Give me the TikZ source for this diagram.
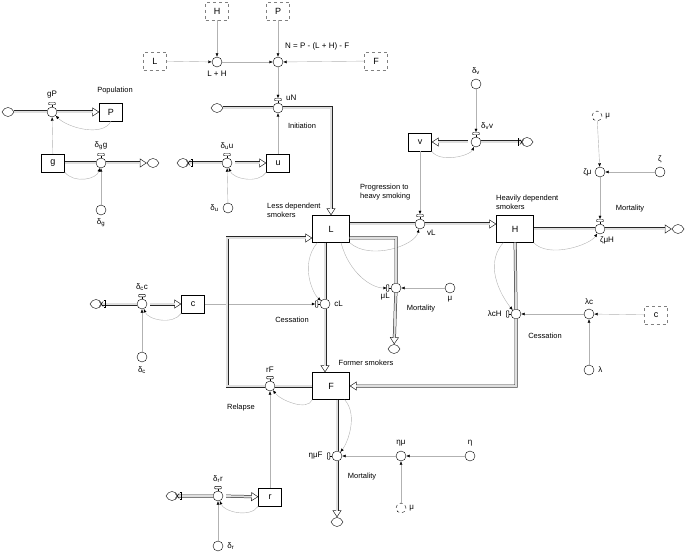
\documentclass[tikz,border=0pt]{standalone}
\usepackage{fontspec}
\setmainfont{Liberation Sans}
\usetikzlibrary{arrows.meta, positioning, shapes.symbols}

\begin{document}
\begin{tikzpicture}[
  x=1pt, y=-1pt,
  font=\fontsize{8}{9}\selectfont,
  stock/.style={draw, minimum width=23pt, minimum height=18pt, inner sep=0pt, font=\fontsize{9}{10}\selectfont},
  bigstock/.style={stock, minimum width=37pt, minimum height=27pt},
  ghost/.style={stock, draw=gray, dashed},
  aux/.style={circle, draw, minimum size=10pt, inner sep=0pt},
  ghostaux/.style={aux, dashed},
  sky/.style={cloud, cloud puffs=4, cloud puff arc=140, aspect=1.4, draw, minimum width=12pt, minimum height=9pt, inner sep=0pt},
  lbl/.style={inner sep=1pt},
  note/.style={inner sep=0pt, align=left, font=\fontsize{7.5}{9}\selectfont},
  link/.style={draw=gray!60, -{Latex[color=black, length=3.5pt, width=3pt]}},
  flow/.style={draw=gray!30!black, line width=0.5pt, -{Triangle[fill=white, length=7pt, width=9pt]},
    postaction={draw=gray!30!black, double=gray!25, double distance=2pt, -, shorten >=6.5pt}},
  valvecap/.style={draw, fill=white, rounded corners=0.8pt}
  ]
\useasboundingbox (0,0) rectangle (685,553);

% Ghost variables and N
\node[ghost] (Hg) at (217,11) {H};
\node[ghost] (Pg) at (278,11) {P};
\node[ghost] (Lg) at (155,61) {L};
\node[ghost] (Fg) at (376,61) {F};
\node[aux, label={[lbl, label distance=3pt]below:L + H}] (LH) at (217,62) {};
\node[aux] (N) at (278,62) {};
\node[lbl, anchor=south west] (Nl) at (284,51) {N = P - (L + H) - F};

% Population
\node[sky] (srcP) at (8,112) {};
\node[aux, label={[lbl, label distance=7pt]above:gP}] (gP) at (52,112) {};
\node[stock] (P) at (111,112) {P};
\node[note] (popl) at (115,91) {Population};
\node[stock] (g) at (53,163) {g};
\node[aux, label={[lbl, label distance=7pt]above:δ\textsubscript{g}g}] (dgg) at (101,163) {};
\node[sky] (snkG) at (153,163) {};
\node[aux, label={[lbl, label distance=2pt]below:δ\textsubscript{g}}] (dg) at (101,210) {};

% Initiation
\node[sky] (srcN) at (217,108) {};
\node[aux] (uN) at (278,108) {};
\node[lbl, anchor=south west] (uNl) at (285,102) {uN};
\node[note] (initl) at (302,126) {Initiation};
\node[stock] (u) at (278,163) {u};
\node[aux, label={[lbl, label distance=7pt]above:δ\textsubscript{u}u}] (duu) at (227,163) {};
\node[sky] (srcU) at (183,163) {};
\node[aux, label={[lbl, label distance=3pt]left:δ\textsubscript{u}}] (du) at (228,208) {};

% Progression to heavy smoking
\node[aux, label={[lbl, label distance=3pt]above:δ\textsubscript{v}}] (dv) at (476,84) {};
\node[aux] (dvv) at (476,142) {};
\node[lbl, anchor=south west] (dvvl) at (480,131) {δ\textsubscript{v}v};
\node[stock] (v) at (420,142) {v};
\node[sky] (srcV) at (527,142) {};
\node[aux] (vL) at (420,224) {};
\node[lbl, anchor=north west] (vLl) at (426,229) {vL};
\node[note, anchor=west] (progl) at (360,192) {Progression to\\heavy smoking};

% Stocks
\node[bigstock] (L) at (331,229) {L};
\node[note, anchor=west] (Ll) at (267,210) {Less dependent\\smokers};
\node[bigstock] (H) at (515,229) {H};
\node[note, anchor=west] (Hl) at (496,202) {Heavily dependent\\smokers};
\node[bigstock] (F) at (331,386) {F};
\node[note] (Fl) at (366,363) {Former smokers};

% Mortality of heavy smokers
\node[ghostaux, label={[lbl, label distance=2pt]right:μ}] (mu1) at (597,116) {};
\node[aux, label={[lbl, label distance=3pt]above:ζ}] (zeta) at (660,172) {};
\node[aux, label={[lbl, label distance=2pt]left:ζμ}] (zm) at (600,172) {};
\node[aux] (zmH) at (600,229) {};
\node[lbl, anchor=north] (zmHl) at (607,236) {ζμH};
\node[note] (mort1) at (630,209) {Mortality};
\node[sky] (snkH) at (678,229) {};

% Cessation of less dependent smokers
\node[aux, label={[lbl, label distance=3pt]right:cL}] (cL) at (325,304) {};
\node[stock] (c) at (193,304) {c};
\node[aux, label={[lbl, label distance=7pt]above:δ\textsubscript{c}c}] (dcc) at (142,304) {};
\node[sky] (srcC) at (96,304) {};
\node[aux, label={[lbl, label distance=3pt]below:δ\textsubscript{c}}] (dc) at (142,357) {};
\node[note] (cesl1) at (292,320) {Cessation};

% Mortality of less dependent smokers
\node[aux] (mL) at (396,288) {};
\node[lbl, anchor=north east] (mLl) at (391,292) {μL};
\node[aux, label={[lbl, label distance=2pt]below:μ}] (mu2) at (450,288) {};
\node[sky] (snkML) at (394,349) {};
\node[note] (mort2) at (421,309) {Mortality};

% Cessation of heavy smokers
\node[aux, label={[lbl, label distance=8pt]left:λcH}] (lcH) at (516,314) {};
\node[aux, label={[lbl, label distance=3pt]above:λc}] (lc) at (589,314) {};
\node[ghost] (cg) at (656,315) {c};
\node[aux, label={[lbl, label distance=3pt]right:λ}] (lam) at (589,370) {};
\node[note] (cesl2) at (545,336) {Cessation};

% Relapse
\node[aux, label={[lbl, label distance=7pt]above:rF}] (rF) at (270,386) {};
\node[note] (relpl) at (241,408) {Relapse};
\node[stock] (r) at (270,497) {r};
\node[aux, label={[lbl, label distance=7pt]above:δ\textsubscript{r}r}] (drr) at (218,496) {};
\node[sky] (srcR) at (172,496) {};
\node[aux, label={[lbl, label distance=3pt]right:δ\textsubscript{r}}] (dr) at (218,546) {};

% Mortality of former smokers
\node[aux, label={[lbl, label distance=8pt]left:ημF}] (emF) at (337,456) {};
\node[aux, label={[lbl, label distance=3pt]above:ημ}] (em) at (401,456) {};
\node[aux, label={[lbl, label distance=3pt]above:η}] (eta) at (470,456) {};
\node[ghostaux, label={[lbl, label distance=2pt]right:μ}] (mu3) at (401,508) {};
\node[sky] (snkF) at (337,522) {};
\node[note] (mort3) at (362,477) {Mortality};

% Links
\draw[link] (Hg) -- (LH);
\draw[link] (Pg) -- (N);
\draw[link] (Lg) -- (LH);
\draw[link] (LH) -- (N);
\draw[link] (Fg) -- (N);
\draw[link, shorten >=4.5pt] (N) -- (uN);
\draw[link] (u) -- (uN);
\draw[link] (g) -- (gP);
\draw[link] (P.south) .. controls +(-8,16) and +(16,16) .. (gP);
\draw[link] (g.south east) .. controls +(10,12) and +(-4,16) .. (dgg);
\draw[link] (dg) -- (dgg);
\draw[link] (u.south west) .. controls +(-8,12) and +(6,16) .. (duu);
\draw[link] (du) -- (duu);
\draw[link, shorten >=4.5pt] (dv) -- (dvv);
\draw[link] (v.south east) .. controls +(8,12) and +(-6,14) .. (dvv);
\draw[link, shorten >=4.5pt] (v) -- (vL);
\draw[link] (L.south east) .. controls +(20,18) and +(-5,22) .. (vL);
\draw[link] (mu1) -- (zm);
\draw[link] (zeta) -- (zm);
\draw[link, shorten >=4.5pt] (zm) -- (zmH);
\draw[link] (H.south east) .. controls +(15,16) and +(-10,16) .. (zmH);
\draw[link, shorten >=4.5pt] (c) -- (cL);
\draw[link] ([xshift=5pt]L.south west) .. controls +(-18,22) and +(-12,-10) .. (cL);
\draw[link, shorten >=4pt] ([xshift=10pt]L.south) .. controls +(8,30) and +(-25,0) .. (mL);
\draw[link] (mu2) -- (mL);
\draw[link] (cg) -- (lc);
\draw[link] (lam) -- (lc);
\draw[link] (lc) -- (lcH);
\draw[link] ([xshift=7pt]H.south west) .. controls +(-22,25) and +(-10,-12) .. (lcH);
\draw[link] (r) -- (rF);
\draw[link] (F.south west) .. controls +(-5,12) and +(10,14) .. (rF);
\draw[link] (r.south west) .. controls +(-8,12) and +(6,16) .. (drr);
\draw[link] (dr) -- (drr);
\draw[link] (c.south west) .. controls +(-8,12) and +(6,16) .. (dcc);
\draw[link] (dc) -- (dcc);
\draw[link] ([xshift=-5pt]F.south east) .. controls +(14,16) and +(10,-12) .. (emF);
\draw[link] (eta) -- (em);
\draw[link] (mu3) -- (em);
\draw[link] (em) -- (emF);

% Flows
\draw[flow] (srcP) -- (gP) -- (P);
\draw[flow] (g) -- (dgg) -- (snkG);
\draw[flow] (srcN) -- (uN) -| (L);
\draw[flow, shorten <=3pt] (srcU) -- (duu) -- (u);
\draw[flow, shorten <=3pt] (srcV) -- (dvv) -- (v);
\draw[flow] ([yshift=5pt]L.east) -- (vL) -- (H.west |- vL);
\draw[flow] (H) -- (zmH) -- (snkH);
\draw[flow] (L.south -| cL) -- (cL) -- (F.north -| cL);
\draw[flow] ([yshift=-9pt]L.east) -| (mL) -- (snkML);
\draw[flow] (H) -- (lcH) |- (F);
\draw[flow] (F) -- (rF) -- ++(-43,0) |- ([yshift=-9pt]L.west);
\draw[flow, shorten <=3pt] (srcC) -- (dcc) -- (c);
\draw[flow, shorten <=3pt] (srcR) -- (drr) -- (r);
\draw[flow] (F.south -| emF) -- (emF) -- (snkF);

% Valve handles
\foreach \v in {gP, dgg, duu, uN, dvv, vL, zmH, rF, dcc, drr}{
  \draw (\v.north) -- ++(0pt,2pt);
  \draw[valvecap] ([shift={(-3.5pt,2pt)}]\v.north) rectangle ++(7pt,2.5pt);
}
\foreach \v in {cL, mL, lcH, emF}{
  \draw (\v.west) -- ++(-2pt,0pt);
  \draw[valvecap] ([shift={(-2pt,-3.5pt)}]\v.west) rectangle ++(-2.5pt,7pt);
}

% Clipped sources
\foreach \s/\a/\p/\m in {srcU/east/1/-1, srcC/east/1/-1, srcR/east/1/-1, srcV/west/-1/1}{
  \draw ([xshift=\p*3pt]\s.\a) ++(\m*1.5pt,3.5pt) -- ++(\p*1.5pt,0pt) -- ++(0pt,-7pt) -- ++(\m*1.5pt,0pt);
  \draw ([xshift=\m*1pt]\s.\a) ++(-2pt,-2.5pt) -- ++(4pt,5pt) ++(-4pt,0pt) -- ++(4pt,-5pt);
}
\end{tikzpicture}
\end{document}
